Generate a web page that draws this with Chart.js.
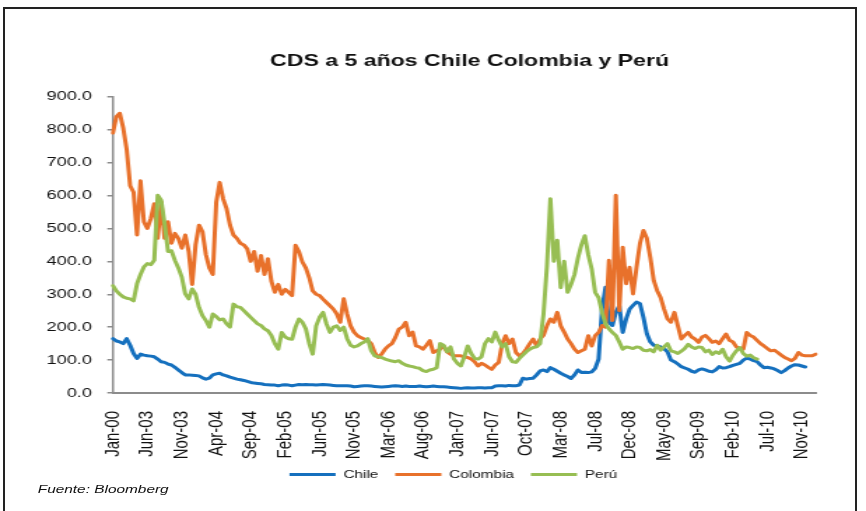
<!DOCTYPE html>
<html>
<head>
<meta charset="utf-8">
<script src="https://cdn.jsdelivr.net/npm/chart.js@4"></script>
<style>
  html, body { margin: 0; padding: 0; background: #fff; width: 866px; height: 511px; overflow: hidden; }
  #frame { position: absolute; left: 3px; top: 7px; width: 854px; height: 520px; border: 2px solid #222; box-sizing: border-box; }
  /* the whole chart is laid out narrow and widened horizontally */
  #stage { position: absolute; left: 0; top: 0; width: 619px; height: 511px; transform-origin: 0 0; transform: scaleX(1.399); }
  #note { position: absolute; left: 27px; top: 483px; font: italic 11px "Liberation Sans", Arial, sans-serif; color: #111; white-space: nowrap; }
</style>
</head>
<body>
<div id="frame"></div>
<div id="stage">
  <canvas id="c"></canvas>
  <div id="note">Fuente: Bloomberg</div>
</div>
<script>
// Month labels shown on the x axis, one every ten observations
const tickLabels = ['Jan-00', 'Jun-03', 'Nov-03', 'Apr-04', 'Sep-04', 'Feb-05', 'Jun-05', 'Nov-05',
  'Mar-06', 'Aug-06', 'Jan-07', 'Jun-07', 'Oct-07', 'Mar-08', 'Jul-08', 'Dec-08', 'May-09',
  'Sep-09', 'Feb-10', 'Jul-10', 'Nov-10'];
const pointsPerTick = 10;

// 5-year CDS spreads (bp)
const chile = [
  165, 158, 155, 150, 165, 145, 120, 105, 118, 115,
  113, 112, 110, 103, 95, 93, 88, 85, 78, 70,
  62, 55, 55, 54, 53, 52, 46, 42, 45, 55,
  58, 60, 55, 52, 48, 45, 42, 40, 38, 35,
  32, 30, 29, 28, 26, 25, 24, 24, 22, 24,
  25, 24, 22, 24, 26, 25, 26, 25, 25, 24,
  25, 26, 25, 24, 23, 22, 22, 22, 22, 21,
  19, 20, 21, 22, 22, 21, 20, 19, 18, 19,
  20, 21, 22, 21, 20, 21, 20, 20, 20, 21,
  20, 19, 20, 21, 20, 19, 19, 18, 17, 16,
  15, 14, 15, 16, 15, 15, 16, 16, 15, 16,
  16, 21, 22, 22, 21, 23, 22, 22, 24, 45,
  42, 44, 45, 55, 67, 70, 65, 77, 72, 66,
  60, 55, 50, 44, 55, 70, 62, 63, 62, 64,
  75, 103, 255, 321, 215, 205, 245, 265, 184, 225,
  255, 266, 276, 272, 230, 180, 155, 145, 143, 140,
  135, 125, 100, 95, 88, 80, 76, 72, 66, 63,
  70, 73, 70, 66, 64, 70, 80, 76, 77, 80,
  84, 87, 90, 100, 106, 103, 98, 95, 85, 77,
  78, 76, 73, 68, 62, 68, 76, 82, 86, 85,
  82, 79
];
const colombia = [
  790, 840, 850, 805, 740, 630, 610, 480, 645, 520,
  500, 530, 575, 470, 580, 470, 520, 455, 485, 470,
  440, 480, 430, 330, 450, 510, 490, 420, 380, 360,
  580, 640, 590, 560, 510, 480, 470, 455, 450, 438,
  400, 430, 370, 418, 360, 408, 340, 306, 330, 300,
  315, 306, 296, 449, 430, 398, 380, 350, 310, 300,
  296, 285, 275, 265, 255, 240, 215, 286, 240, 204,
  185, 174, 168, 164, 160, 150, 123, 108, 118, 133,
  143, 150, 169, 194, 200, 215, 174, 185, 143, 140,
  133, 145, 159, 123, 128, 133, 143, 125, 118, 113,
  113, 113, 110, 108, 103, 95, 82, 90, 85, 78,
  72, 85, 93, 150, 174, 150, 164, 123, 113, 120,
  133, 150, 164, 143, 164, 175, 204, 225, 215, 245,
  204, 185, 164, 150, 133, 123, 128, 133, 174, 143,
  174, 184, 205, 200, 403, 220, 601, 250, 443, 332,
  382, 301, 382, 454, 494, 470, 412, 342, 311, 290,
  255, 225, 215, 245, 204, 164, 175, 184, 170, 164,
  154, 170, 175, 165, 154, 158, 150, 165, 179, 160,
  155, 140, 135, 133, 184, 175, 170, 160, 150, 143,
  135, 128, 130, 123, 115, 108, 103, 98, 105, 123,
  115, 113, 113, 113, 118
];
const peru = [
  326, 310, 300, 292, 288, 286, 280, 332, 360, 383,
  393, 390, 403, 601, 586, 515, 430, 432, 403, 380,
  352, 301, 286, 316, 300, 260, 235, 220, 200, 240,
  232, 222, 225, 210, 200, 270, 262, 260, 250, 240,
  230, 220, 210, 205, 195, 189, 175, 150, 133, 184,
  170, 165, 163, 200, 225, 215, 195, 150, 118, 204,
  230, 245, 210, 184, 200, 204, 190, 200, 165, 145,
  140, 143, 150, 155, 165, 128, 113, 110, 108, 103,
  100, 97, 95, 98, 90, 85, 82, 80, 77, 75,
  68, 65, 70, 72, 77, 150, 145, 125, 140, 103,
  90, 82, 110, 143, 120, 105, 103, 110, 150, 165,
  155, 185, 160, 140, 150, 110, 95, 93, 105, 115,
  125, 133, 138, 140, 150, 240, 385, 590, 400, 464,
  320, 400, 306, 330, 360, 410, 450, 478, 420, 377,
  306, 290, 245, 210, 195, 184, 175, 155, 133, 140,
  138, 135, 140, 138, 130, 128, 132, 125, 145, 130,
  140, 150, 128, 125, 120, 127, 135, 148, 140, 135,
  140, 138, 125, 130, 117, 125, 120, 133, 110, 97,
  115, 128, 138, 120, 112, 115, 107, 103
];

const categories = colombia.map((_, i) => (i % pointsPerTick === 0 ? (tickLabels[i / pointsPerTick] || '') : ''));

const FONT = '"Liberation Sans", Arial, sans-serif';
const INK = '#111';
const AXIS = '#8c8c8c';
const colors = { chile: '#1570BE', colombia: '#E8712B', peru: '#97BE53' };

Chart.defaults.font.family = FONT;

// Fine placement of the title and of the legend row
const blockOffset = {
  id: 'blockOffset',
  afterLayout(chart, args, opts) {
    const shift = (box, o) => {
      if (!box || !o) return;
      box.left += o.dx; box.right += o.dx;
      box.top += o.dy; box.bottom += o.dy;
    };
    shift(chart.legend, opts.legend);
    shift(chart.titleBlock, opts.title);
  }
};

new Chart(document.getElementById('c'), {
  type: 'line',
  data: {
    labels: categories,
    datasets: [
      { label: 'Chile', data: chile, borderColor: colors.chile, backgroundColor: colors.chile, order: 3 },
      { label: 'Colombia', data: colombia, borderColor: colors.colombia, backgroundColor: colors.colombia, order: 2 },
      { label: 'Perú', data: peru, borderColor: colors.peru, backgroundColor: colors.peru, order: 1 }
    ]
  },
  plugins: [blockOffset],
  options: {
    responsive: true,
    maintainAspectRatio: false,
    animation: false,
    layout: { padding: { left: 0, right: 28, top: 0, bottom: -1 } },
    elements: {
      line: { borderWidth: 3, tension: 0, borderJoinStyle: 'round', borderCapStyle: 'round' },
      point: { radius: 0, hoverRadius: 0 }
    },
    plugins: {
      blockOffset: { legend: { dx: -7.8, dy: -22 }, title: { dx: 3.8, dy: 0 } },
      title: {
        display: true,
        text: 'CDS a 5 años Chile Colombia y Perú',
        fullSize: false,
        color: INK,
        font: { size: 16.5, weight: 'bold' },
        padding: { top: 52, bottom: 25 }
      },
      legend: {
        position: 'bottom',
        fullSize: false,
        labels: {
          boxWidth: 33,
          boxHeight: 3,
          padding: 12,
          color: INK,
          font: { size: 11 },
          sort: (a, b) => a.datasetIndex - b.datasetIndex,
          generateLabels(chart) {
            return Chart.defaults.plugins.legend.labels.generateLabels(chart)
              .map(item => Object.assign(item, { lineWidth: 0, fillStyle: item.strokeStyle }));
          }
        }
      },
      tooltip: { enabled: false }
    },
    scales: {
      x: {
        grid: { display: false, drawTicks: false },
        border: { display: true, color: AXIS, width: 2 },
        ticks: {
          autoSkip: false,
          minRotation: 90,
          maxRotation: 90,
          padding: 18,
          color: INK,
          font: { size: 15 },
          callback(value) { return this.getLabelForValue(value); }
        }
      },
      y: {
        min: 0,
        max: 900,
        grid: { display: true, drawOnChartArea: false, drawTicks: true, tickLength: 4, color: AXIS, lineWidth: 1.5 },
        border: { display: true, color: AXIS, width: 1.5 },
        ticks: { stepSize: 100, padding: 11, color: INK, font: { size: 13 }, callback: v => v.toFixed(1) },
        afterFit(scale) { scale.width = 80.7; }
      }
    }
  }
});
</script>
</body>
</html>
